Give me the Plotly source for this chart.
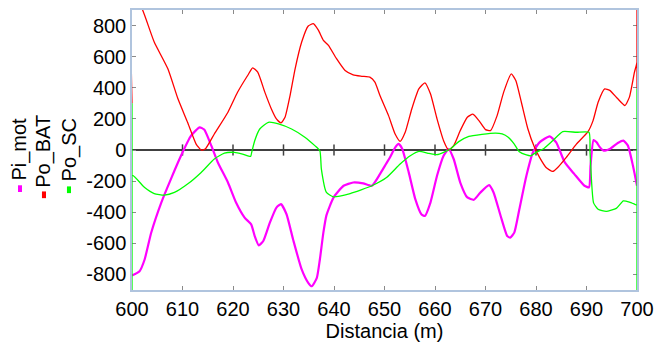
import plotly.graph_objects as go

# ---------------- data ----------------
x_ticks = [600, 610, 620, 630, 640, 650, 660, 670, 680, 690, 700]
y_ticks = [-800, -600, -400, -200, 0, 200, 400, 600, 800]

x_mot = [600.0, 601.5, 602.5, 603.8, 605.8, 607.7, 609.7, 611.7, 613.4, 614.3,
         615.7, 617.0, 619.0, 620.6, 622.3, 623.6, 624.3, 625.1, 626.0, 627.3,
         628.6, 629.5, 630.6, 631.9, 633.6, 634.9, 635.6, 636.6, 637.2, 637.9,
         638.5, 639.9, 641.9, 643.8, 645.8, 647.5, 649.1, 650.1, 651.1, 652.1,
         652.8, 653.5, 654.8, 656.1, 657.3, 658.0, 659.1, 660.4, 661.7, 662.7,
         663.7, 665.0, 666.4, 667.7, 669.0, 670.7, 671.6, 673.0, 674.3, 674.9,
         675.7, 676.7, 678.1, 679.4, 680.7, 682.7, 684.0, 685.7, 687.6, 689.6,
         690.5, 690.8, 691.4, 692.0, 692.6, 693.4, 694.6, 696.2, 697.3, 698.2,
         699.2, 700.0]
pi_mot = [-807, -779, -704, -532, -338, -187, -37, 92, 146, 131,
          28, -80, -209, -338, -435, -478, -553, -613, -585, -467,
          -370, -348, -413, -575, -768, -854, -876, -822, -704, -530,
          -420, -306, -230, -209, -215, -230, -155, -100, -47, 15,
          39, 8, -144, -316, -413, -424, -338, -166, -37, 6,
          -58, -209, -305, -320, -273, -226, -273, -424, -553, -563,
          -531, -381, -166, -15, 49, 88, 49, -80, -155, -230,
          -240, -101, 64, 50, 20, -4, 6, 45, 60, 28,
          -101, -230]

x_bat = [600.0, 600.0, 601.0, 602.1, 604.4, 607.1, 609.1, 611.0, 612.7, 613.7,
         614.5, 616.3, 619.0, 620.9, 622.9, 623.9, 624.9, 626.3, 627.6, 628.6,
         629.5, 630.3, 631.3, 632.3, 633.6, 634.9, 635.9, 636.9, 637.9, 638.9,
         640.5, 642.2, 643.8, 645.5, 647.1, 648.1, 649.1, 650.8, 652.1, 653.1,
         654.1, 655.4, 656.8, 658.0, 659.1, 660.4, 661.7, 662.7, 663.7, 665.0,
         666.4, 667.5, 668.7, 670.0, 671.0, 672.3, 673.6, 675.1, 676.0, 677.1,
         678.4, 679.7, 680.7, 682.0, 683.3, 684.3, 686.0, 688.0, 690.3, 691.3,
         692.3, 693.6, 694.6, 696.2, 697.6, 698.5, 699.5, 700.0, 700.0, 700.0]
po_bat = [300, 1000, 960, 900, 694, 522, 329, 178, 38, 0,
          6, 103, 243, 371, 479, 528, 500, 372, 264, 200,
          174, 210, 350, 522, 694, 797, 812, 770, 705, 673,
          587, 511, 483, 474, 468, 436, 350, 221, 103, 56,
          114, 264, 393, 432, 361, 200, 60, 0, 28, 125,
          211, 230, 189, 131, 125, 221, 372, 490, 447, 307,
          135, 17, -47, -112, -138, -112, -47, 38, 118, 189,
          307, 393, 383, 329, 286, 340, 501, 565, 1000, 393]

x_sc = [600.0, 600.0, 600.0, 602.5, 604.4, 606.4, 608.4, 611.0, 613.7, 616.3,
        618.3, 620.3, 621.9, 623.5, 623.7, 624.3, 625.3, 627.0, 629.0, 631.6,
        634.3, 636.2, 637.2, 637.5, 638.5, 639.9, 643.2, 645.5, 647.5, 650.4,
        653.1, 655.1, 656.8, 658.8, 660.4, 661.7, 663.0, 664.7, 666.7,
        669.3, 672.0, 673.3, 674.5, 675.7, 676.7, 678.1, 679.0, 680.0, 681.4,
        683.3, 685.3, 688.0, 690.5, 690.7, 691.4, 692.3, 693.9, 695.9, 697.3,
        698.5, 699.5, 700.0, 700.0, 700.0]
po_sc = [300, -1000, -162, -241, -280, -290, -273, -219, -144, -58,
         -20, -15, -26, -41, -15, 60, 135, 178, 168, 135,
         81, 28, -5, -123, -273, -301, -280, -255, -230, -177,
         -90, -37, -9, -22, -30, -15, 6, 54, 88,
         101, 109, 103, 82, 38, -11, -32, -37, -15, 6,
         60, 118, 114, 114, -15, -340, -381, -395, -375, -327,
         -335, -348, -355, 393, -1000]

series_names = ["Pi_mot", "Po_BAT", "Po_SC"]
series_colors = ["#ff00ff", "#ff0000", "#00ff00"]

FONT = "Liberation Sans, Arial, sans-serif"
FS = 20

fig = go.Figure()

# tick marks on the zero line
fig.add_trace(go.Scatter(
    x=x_ticks[1:-1], y=[0] * (len(x_ticks) - 2), mode="markers",
    marker=dict(symbol="line-ns", size=8, line=dict(width=1.5, color="#404040")),
    showlegend=False, hoverinfo="skip"))

for xs, ys, name, col, w in [(x_mot, pi_mot, series_names[0], series_colors[0], 2.2),
                             (x_bat, po_bat, series_names[1], series_colors[1], 1.3),
                             (x_sc, po_sc, series_names[2], series_colors[2], 1.3)]:
    fig.add_trace(go.Scatter(x=xs, y=ys, mode="lines", name=name,
                             line=dict(color=col, width=w, shape="spline", smoothing=0.5),
                             showlegend=False))

axis_common = dict(
    showgrid=False, ticks="inside", ticklen=4, tickcolor="#8a8a8a", tickwidth=1,
    showline=True, linecolor="#b0c4de", linewidth=1.5, mirror="ticks",
    automargin=False,
    tickfont=dict(family=FONT, size=FS, color="black"), layer="below traces")

fig.update_layout(
    width=654, height=346,
    margin=dict(l=132, r=17, t=10, b=56),
    paper_bgcolor="white", plot_bgcolor="white",
    font=dict(family=FONT, size=FS, color="black"),
    xaxis=dict(range=[600, 700], tickvals=x_ticks, ticktext=[str(v) for v in x_ticks],
               zeroline=False,
               title=dict(text="Distancia (m)", font=dict(family=FONT, size=FS), standoff=4),
               **axis_common),
    yaxis=dict(range=[-900, 900], tickvals=y_ticks, ticktext=[str(v) for v in y_ticks],
               zeroline=True, zerolinecolor="#404040", zerolinewidth=2,
               **axis_common),
)

# rotated legend on the left
leg_x = [-0.2218, -0.1743, -0.1248]
leg_y = [0.505, 0.497, 0.502]
mark_y = [0.362, 0.34, 0.358]
for i, name in enumerate(series_names):
    fig.add_annotation(text=name, xref="paper", yref="paper", x=leg_x[i], y=leg_y[i],
                       textangle=-90, showarrow=False, xanchor="center", yanchor="middle",
                       font=dict(family=FONT, size=FS, color="black"))
    fig.add_shape(type="rect", xref="paper", yref="paper",
                  x0=leg_x[i] - 0.004, x1=leg_x[i] + 0.004,
                  y0=mark_y[i] - 0.012, y1=mark_y[i] + 0.012,
                  fillcolor=series_colors[i], line=dict(width=0))

fig.write_html("out.html", config={"displayModeBar": False},
               post_script="document.body.style.margin='0';document.body.style.padding='0';")
